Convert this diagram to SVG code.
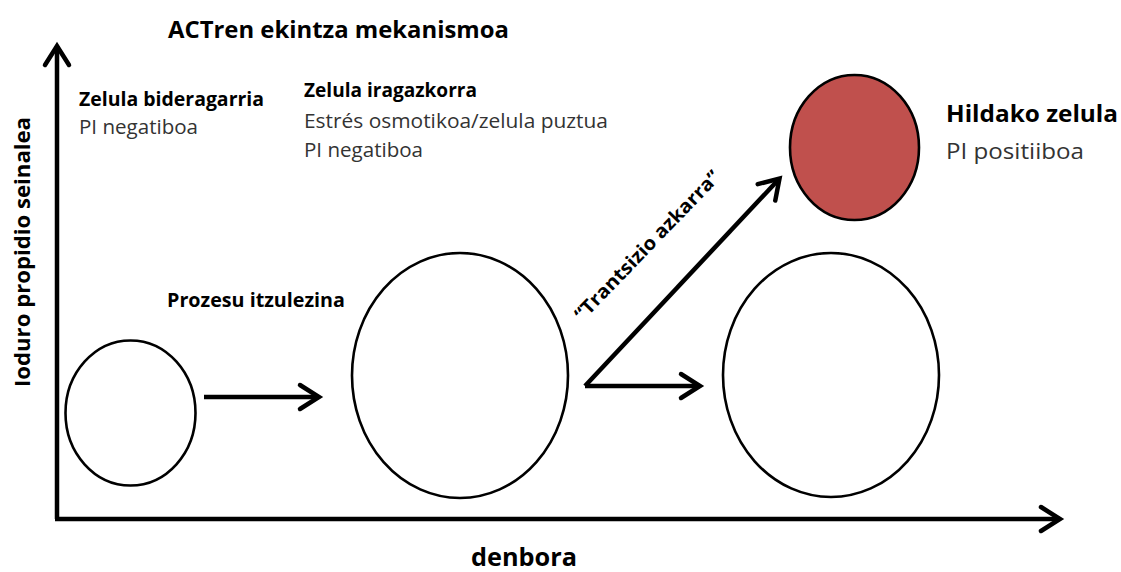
<svg xmlns="http://www.w3.org/2000/svg" width="1121" height="572" viewBox="0 0 1121 572">
  <style>
    .t { font-family: "Open Sans", "Liberation Sans", sans-serif; }
    .b { font-weight: bold; fill: #000; }
    .r { font-weight: normal; fill: #333; }
    .axis { stroke: #000; stroke-width: 4.5; fill: none; }
    .arr { stroke: #000; stroke-width: 4.5; fill: none; }
    .cell { stroke: #000; stroke-width: 2.6; fill: #fff; }
    .dead { stroke: #000; stroke-width: 2.6; fill: #C0504D; }
  </style>
  <defs>
    <marker id="head" markerUnits="userSpaceOnUse" markerWidth="40" markerHeight="40" viewBox="-30 -20 40 40" refX="0" refY="0" orient="auto">
      <path d="M-19,-12 L0,0 L-19,12" stroke="#000" stroke-width="4.5" fill="none" stroke-linejoin="miter" stroke-linecap="round"/>
    </marker>
  </defs>
  <rect width="1121" height="572" fill="#fff"/>

  <g id="axes">
    <path class="axis" d="M57,519 L57,46" marker-end="url(#head)"/>
    <path class="axis" d="M55,519 L1060,519" marker-end="url(#head)"/>
  </g>

  <g id="title">
    <text class="t b" x="168" y="38" font-size="23.5" textLength="341" lengthAdjust="spacingAndGlyphs">ACTren ekintza mekanismoa</text>
  </g>

  <g id="ylabel">
    <text class="t b" transform="translate(30,387) rotate(-90)" x="0" y="0" font-size="22" textLength="270" lengthAdjust="spacingAndGlyphs">Ioduro propidio seinalea</text>
  </g>
  <g id="xlabel">
    <text class="t b" x="471" y="566" font-size="25" textLength="106" lengthAdjust="spacingAndGlyphs">denbora</text>
  </g>

  <g id="viable">
    <ellipse class="cell" cx="130.5" cy="413" rx="65" ry="72.5"/>
    <text class="t b" x="79" y="106" font-size="19.5" textLength="185" lengthAdjust="spacingAndGlyphs">Zelula bideragarria</text>
    <text class="t r" x="79" y="134" font-size="19.5" textLength="119" lengthAdjust="spacingAndGlyphs">PI negatiboa</text>
  </g>

  <g id="permeable">
    <ellipse class="cell" cx="460" cy="375.5" rx="108" ry="122.5"/>
    <text class="t b" x="304" y="97" font-size="19.5" textLength="173" lengthAdjust="spacingAndGlyphs">Zelula iragazkorra</text>
    <text class="t r" x="304" y="128" font-size="19.5" textLength="304" lengthAdjust="spacingAndGlyphs">Estrés osmotikoa/zelula puztua</text>
    <text class="t r" x="304" y="157" font-size="19.5" textLength="119" lengthAdjust="spacingAndGlyphs">PI negatiboa</text>
  </g>

  <g id="swollen">
    <ellipse class="cell" cx="831" cy="375" rx="108" ry="122"/>
  </g>

  <g id="dead">
    <ellipse class="dead" cx="854.5" cy="147.5" rx="64.5" ry="72.5"/>
    <text class="t b" x="946" y="122" font-size="24" textLength="172" lengthAdjust="spacingAndGlyphs">Hildako zelula</text>
    <text class="t r" x="946" y="159" font-size="22" textLength="138" lengthAdjust="spacingAndGlyphs">PI positiiboa</text>
  </g>

  <g id="connectors">
    <path class="arr" d="M204,397 L319,397" marker-end="url(#head)"/>
    <path class="arr" d="M585,386 L700,386" marker-end="url(#head)"/>
    <path class="arr" d="M585,386 L779.5,178.5" marker-end="url(#head)"/>
    <text class="t b" x="167" y="307" font-size="19.5" textLength="178" lengthAdjust="spacingAndGlyphs">Prozesu itzulezina</text>
    <text class="t b" transform="translate(652,250) rotate(-46)" x="0" y="0" text-anchor="middle" font-size="19" textLength="200" lengthAdjust="spacingAndGlyphs">“Trantsizio azkarra”</text>
  </g>
</svg>
